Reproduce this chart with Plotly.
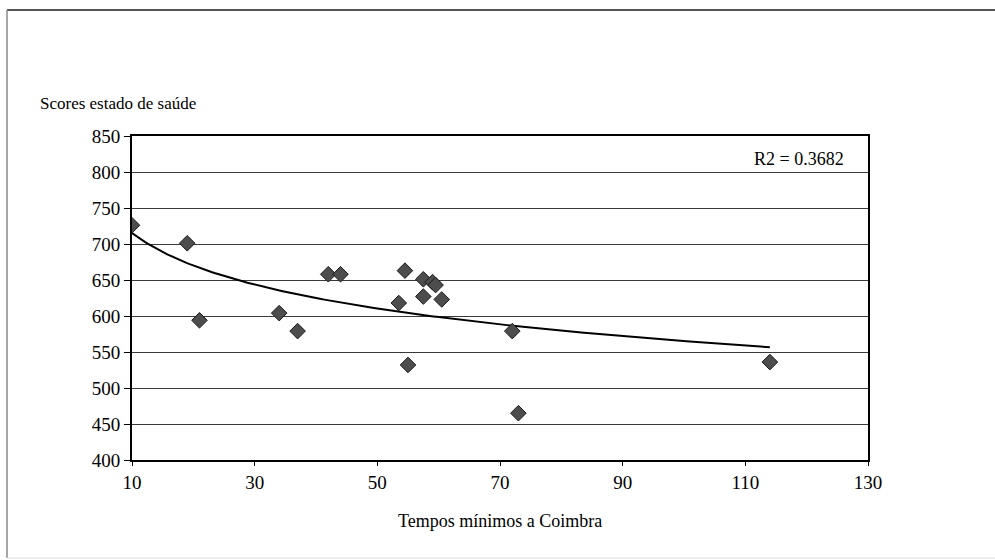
import numpy as np
import plotly.graph_objects as go

# Data
tempos = [10, 19, 21, 34, 37, 42, 44, 53.5, 54.5, 55, 57.5, 57.5, 59, 59.5, 60.5, 72, 73, 114]
scores = [726, 701, 594, 604, 579, 658, 658, 618, 663, 532, 651, 627, 647, 643, 623, 579, 465, 536]
x_ticks = [10, 30, 50, 70, 90, 110, 130]
y_ticks = [400, 450, 500, 550, 600, 650, 700, 750, 800, 850]
r2_label = "R2 = 0.3682"
y_title = "Scores estado de saúde"
x_title = "Tempos mínimos a Coimbra"

FONT = "Liberation Serif"

# Logarithmic trend line fitted to the data
xa = np.array(tempos, dtype=float)
ya = np.array(scores, dtype=float)
b, a = np.polyfit(np.log(xa), ya, 1)
xt = np.linspace(xa.min(), xa.max(), 200)
yt = a + b * np.log(xt)

fig = go.Figure()
fig.add_trace(go.Scatter(x=xt, y=yt, mode="lines",
                         line=dict(color="black", width=2), hoverinfo="skip",
                         showlegend=False))
fig.add_trace(go.Scatter(x=tempos, y=scores, mode="markers",
                         marker=dict(symbol="diamond", size=12, color="#4d4d4d",
                                     line=dict(color="#1a1a1a", width=1)),
                         showlegend=False))

L, R, T, B = 132, 127, 136, 100
W, H = 995, 560
pw = W - L - R
ph = H - T - B

def px(xp):
    return (xp - L) / pw

def py(yp):
    return (H - B - yp) / ph

fig.update_layout(
    width=W, height=H,
    margin=dict(l=L, r=R, t=T, b=B),
    paper_bgcolor="white", plot_bgcolor="white",
    font=dict(family=FONT, size=16, color="black"),
    xaxis=dict(range=[10, 130], tickvals=x_ticks, ticktext=[str(v) for v in x_ticks],
               showgrid=False, zeroline=False, showline=True, linecolor="black",
               linewidth=2, mirror=True, ticks="outside", ticklen=4, tickcolor="black",
               tickfont=dict(family=FONT, size=19)),
    yaxis=dict(range=[400, 850], tickvals=y_ticks, ticktext=[str(v) for v in y_ticks],
               showgrid=True, gridcolor="#3a3a3a", gridwidth=1, zeroline=False,
               showline=True, linecolor="black", linewidth=2, mirror=True,
               ticks="outside", ticklen=6, tickcolor="black",
               tickfont=dict(family=FONT, size=19)),
    annotations=[
        dict(text=y_title, xref="paper", yref="paper", x=px(38), y=py(103),
             xanchor="left", yanchor="middle", showarrow=False,
             font=dict(family=FONT, size=17)),
        dict(text=x_title, xref="paper", yref="paper", x=px(500), y=py(521),
             xanchor="center", yanchor="middle", showarrow=False,
             font=dict(family=FONT, size=18)),
        dict(text=r2_label, xref="paper", yref="paper", x=px(846), y=py(159),
             xanchor="right", yanchor="middle", showarrow=False,
             font=dict(family=FONT, size=18)),
    ],
    shapes=[
        dict(type="line", xref="paper", yref="paper", x0=px(7), x1=px(1000),
             y0=py(10), y1=py(10), line=dict(color="#555555", width=2)),
        dict(type="line", xref="paper", yref="paper", x0=px(7), x1=px(7),
             y0=py(10), y1=py(558), line=dict(color="#888888", width=1.5)),
        dict(type="line", xref="paper", yref="paper", x0=px(7), x1=px(1000),
             y0=py(558), y1=py(558), line=dict(color="#dddddd", width=1)),
    ],
)

fig.write_html("out.html", config={"displayModeBar": False},
               post_script="document.body.style.margin='0';document.body.style.overflow='hidden';")
